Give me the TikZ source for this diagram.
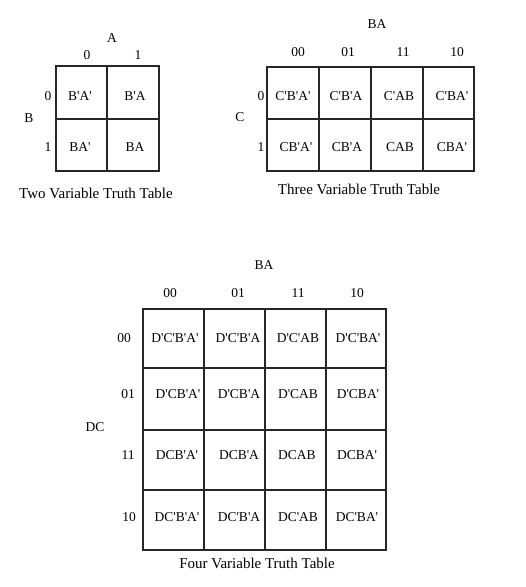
\documentclass[tikz,border=0pt]{standalone}
\usepackage{fontspec}
\setmainfont{Liberation Serif}[Ligatures=TeXOff]
\begin{document}
\begin{tikzpicture}[x=1pt,y=-1pt,
  grid/.style={line width=1.3pt,draw=black!85},
  lbl/.style={inner sep=0pt,font=\fontsize{13.5}{16}\selectfont},
  ttl/.style={inner sep=0pt,font=\fontsize{15}{18}\selectfont}]
\useasboundingbox (0,0) rectangle (526,587);
% ---------- two variable ----------
\draw[grid] (56,66) rectangle (159,171);
\draw[grid] (107,66) -- (107,171);
\draw[grid] (56,119) -- (159,119);
\node[lbl] (tA) at (112,38) {A};
\node[lbl] (tc0) at (87,55) {0};
\node[lbl] (tc1) at (138,55) {1};
\node[lbl] (tB) at (29,118) {B};
\node[lbl] (tr0) at (48,96) {0};
\node[lbl] (tr1) at (48,147) {1};
\node[lbl] (t00) at (80,96) {B'A'};
\node[lbl] (t01) at (135,96) {B'A};
\node[lbl] (t10) at (80,147) {BA'};
\node[lbl] (t11) at (135,147) {BA};
\node[ttl] (tT) at (96,193) {Two Variable Truth Table};
% ---------- three variable ----------
\draw[grid] (267,67) rectangle (474,171);
\foreach \x in {319,371,423} \draw[grid] (\x,67) -- (\x,171);
\draw[grid] (267,119) -- (474,119);
\node[lbl] (hBA) at (377,24) {BA};
\node[lbl] (hc0) at (298,52) {00};
\node[lbl] (hc1) at (348,52) {01};
\node[lbl] (hc2) at (403,52) {11};
\node[lbl] (hc3) at (457,52) {10};
\node[lbl] (hC) at (240,117) {C};
\node[lbl] (hr0) at (261,96) {0};
\node[lbl] (hr1) at (261,147) {1};
\node[lbl] (h00) at (293,96) {C'B'A'};
\node[lbl] (h01) at (346,96) {C'B'A};
\node[lbl] (h02) at (399,96) {C'AB};
\node[lbl] (h03) at (452,96) {C'BA'};
\node[lbl] (h10) at (296,147) {CB'A'};
\node[lbl] (h11) at (347,147) {CB'A};
\node[lbl] (h12) at (400,147) {CAB};
\node[lbl] (h13) at (452,147) {CBA'};
\node[ttl] (hT) at (359,189) {Three Variable Truth Table};
% ---------- four variable ----------
\draw[grid] (143,309) rectangle (386,550);
\foreach \x in {204,265,326} \draw[grid] (\x,309) -- (\x,550);
\foreach \y in {368,430,490} \draw[grid] (143,\y) -- (386,\y);
\node[lbl] (fBA) at (264,265) {BA};
\node[lbl] (fc0) at (170,293) {00};
\node[lbl] (fc1) at (238,293) {01};
\node[lbl] (fc2) at (298,293) {11};
\node[lbl] (fc3) at (357,293) {10};
\node[lbl] (fDC) at (95,427) {DC};
\node[lbl] (fr0) at (124,338) {00};
\node[lbl] (fr1) at (128,394) {01};
\node[lbl] (fr2) at (128,455) {11};
\node[lbl] (fr3) at (129,517) {10};
\node[lbl] (f00) at (175,338) {D'C'B'A'};
\node[lbl] (f01) at (238,338) {D'C'B'A};
\node[lbl] (f02) at (298,338) {D'C'AB};
\node[lbl] (f03) at (358,338) {D'C'BA'};
\node[lbl] (f10) at (178,394) {D'CB'A'};
\node[lbl] (f11) at (239,394) {D'CB'A};
\node[lbl] (f12) at (298,394) {D'CAB};
\node[lbl] (f13) at (358,394) {D'CBA'};
\node[lbl] (f20) at (177,455) {DCB'A'};
\node[lbl] (f21) at (239,455) {DCB'A};
\node[lbl] (f22) at (297,455) {DCAB};
\node[lbl] (f23) at (357,455) {DCBA'};
\node[lbl] (f30) at (177,517) {DC'B'A'};
\node[lbl] (f31) at (239,517) {DC'B'A};
\node[lbl] (f32) at (298,517) {DC'AB};
\node[lbl] (f33) at (357,517) {DC'BA'};
\node[ttl] (fT) at (257,563) {Four Variable Truth Table};
\end{tikzpicture}
\end{document}
